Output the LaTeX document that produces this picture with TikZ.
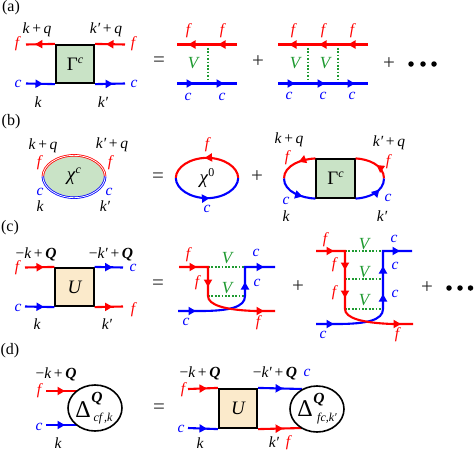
\documentclass[tikz,border=0pt]{standalone}
\usepackage{fontspec}
\setmainfont{Liberation Serif}
\usetikzlibrary{arrows.meta,decorations.markings,shapes.geometric}
\definecolor{boxgreen}{HTML}{C9E3C6}
\definecolor{boxyellow}{HTML}{FBEACB}
\definecolor{vgreen}{HTML}{1E9A30}
\newcommand{\kq}{\textit{k}\,+\,\textit{q}}
\newcommand{\kpq}{\textit{k′}\,+\,\textit{q}}
\newcommand{\mkQ}{−\textit{k}\,+\,\textbf{\textit{Q}}}
\newcommand{\mkpQ}{−\textit{k′}\,+\,\textbf{\textit{Q}}}
\newcommand{\sups}[1]{\raisebox{7pt}{\fontsize{12}{12}\selectfont\itshape #1}}
\pgfkeys{/pgf/decoration/tipat/.style={mark=at position #1 with {\arrow{Triangle[length=7.5pt,width=8pt]}}}}
\tikzset{
  am/.style={postaction={decorate,decoration={markings,tipat/.list={#1}}}},
  rl/.style={draw=red,line width=2.1pt},
  bl/.style={draw=blue,line width=2.1pt},
  vl/.style={draw=vgreen,line width=2pt,dash pattern=on 1.7pt off 1.7pt},
  lab/.style={inner sep=0pt,font=\fontsize{15.5}{15.5}\selectfont},
  il/.style={lab,font=\fontsize{15.5}{15.5}\selectfont\itshape},
  fl/.style={il,text=red},
  cl/.style={il,text=blue},
  gl/.style={il,text=vgreen,font=\fontsize{17}{17}\selectfont\itshape},
  op/.style={inner sep=0pt,font=\fontsize{21}{21}\selectfont,text=black!85},
  sq/.style={draw=black,line width=1.7pt,minimum width=38.5pt,minimum height=38.5pt,inner sep=0pt,font=\fontsize{19}{19}\selectfont},
  gbox/.style={sq,fill=boxgreen},
  ybox/.style={sq,fill=boxyellow},
  blob/.style={draw=black,line width=1.6pt,ellipse,minimum width=54pt,minimum height=46pt,inner sep=0pt},
  dotn/.style={circle,fill=black,minimum size=5.5pt,inner sep=0pt},
  ptag/.style={inner sep=0pt,font=\fontsize{16}{16}\selectfont}
}
\begin{document}
\begin{tikzpicture}[x=1pt,y=-1pt]
\useasboundingbox (0,0) rectangle (474,451);
% ===== (a)
\node[ptag] (ta) at (11,8) {(a)};
\node[gbox] (aG) at (75,64) {Γ\sups{c}};
\coordinate (a1) at (26,44.5); \coordinate (a2) at (125,44.5);
\coordinate (a3) at (26,83.5); \coordinate (a4) at (125,83.5);
\draw[rl,am=20pt] (aG.north west) -- (a1);
\draw[rl,am=19pt] (a2) -- (aG.north east);
\draw[bl,am=17pt] (a3) -- (aG.south west);
\draw[bl,am=18pt] (aG.south east) -- (a4);
\node[lab] (al1) at (37,30) {\kq};
\node[lab] (al2) at (106,30) {\kpq};
\node[fl] (al3) at (17,44) {f};
\node[fl] (al4) at (133,44) {f};
\node[cl] (al5) at (18,84) {c};
\node[cl] (al6) at (134,84) {c};
\node[il] (al7) at (38,102) {k};
\node[il] (al8) at (103,102) {k′};
\node[op] (aeq) at (159,62) {=};
% a second term
\coordinate (b1) at (177,44.5); \coordinate (b2) at (237,44.5);
\coordinate (b3) at (177,83.5); \coordinate (b4) at (237,83.5);
\coordinate (b5) at (207.5,44.5); \coordinate (b6) at (207.5,83.5);
\draw[vl] (b5) -- (b6);
\draw[rl,am={19pt,49pt}] (b2) -- (b1);
\draw[bl,am={17pt,47pt}] (b3) -- (b4);
\node[fl] (bl1) at (188,31) {f};
\node[fl] (bl2) at (222,31) {f};
\node[cl] (bl3) at (188,97) {c};
\node[cl] (bl4) at (222,97) {c};
\node[gl] (bl5) at (193,63) {V};
\node[op] (apl) at (258,62) {+};
% a third term
\coordinate (c1) at (278,44.5); \coordinate (c2) at (368,44.5);
\coordinate (c3) at (278,83.5); \coordinate (c4) at (368,83.5);
\coordinate (c5) at (308,44.5); \coordinate (c6) at (308,83.5);
\coordinate (c7) at (338,44.5); \coordinate (c8) at (338,83.5);
\draw[vl] (c5) -- (c6);
\draw[vl] (c7) -- (c8);
\draw[rl,am={20pt,49pt,79pt}] (c2) -- (c1);
\draw[bl,am={17pt,47pt,77pt}] (c3) -- (c4);
\node[fl] (cl1) at (293,31) {f};
\node[fl] (cl2) at (323,31) {f};
\node[fl] (cl3) at (352,31) {f};
\node[cl] (cl4) at (289,96) {c};
\node[cl] (cl5) at (323,96) {c};
\node[cl] (cl6) at (352,96) {c};
\node[gl] (cl7) at (295,63) {V};
\node[gl] (cl8) at (325,63) {V};
\node[op] (apl2) at (389,64) {+};
\node[dotn] (ad1) at (411,64) {};
\node[dotn] (ad2) at (423,64) {};
\node[dotn] (ad3) at (434,64) {};
% ===== (b)
\node[ptag] (tb) at (11,122) {(b)};
\node[ellipse,fill=boxgreen,minimum width=62pt,minimum height=42pt,inner sep=0pt,font=\fontsize{19}{19}\selectfont] (bX) at (74,176.5) {\textit{χ}\sups{c}};
\draw[draw=red,line width=.8pt,double=white,double distance=.8pt] (bX.west) .. controls (43,165) and (57,155.5) .. (bX.north) .. controls (91,155.5) and (105,165) .. (bX.east);
\draw[draw=blue,line width=.8pt,double=white,double distance=.8pt] (bX.west) .. controls (43,188) and (57,197.5) .. (bX.south) .. controls (91,197.5) and (105,188) .. (bX.east);
\node[lab] (dl1) at (43,146) {\kq};
\node[lab] (dl2) at (112,145) {\kpq};
\node[fl] (dl3) at (39,163) {f};
\node[fl] (dl4) at (110,163) {f};
\node[cl] (dl5) at (40,192) {c};
\node[cl] (dl6) at (109,192) {c};
\node[il] (dl7) at (40,206) {k};
\node[il] (dl8) at (105,206) {k′};
\node[op] (beq) at (158,178) {=};
% chi0
\node[inner sep=0pt,minimum width=62pt,minimum height=40pt,ellipse,font=\fontsize{19}{19}\selectfont] (bZ) at (207,178) {\textit{χ}\raisebox{7pt}{\fontsize{12}{12}\selectfont 0}};
\draw[rl,am=.53] (bZ.east) .. controls (238,167) and (224,158) .. (bZ.north) .. controls (190,158) and (176,167) .. (bZ.west);
\draw[bl,am=.53] (bZ.west) .. controls (176,189) and (190,198) .. (bZ.south) .. controls (224,198) and (238,189) .. (bZ.east);
\node[fl] (el1) at (207,145) {f};
\node[cl] (el2) at (207,209) {c};
\node[op] (bpl) at (257,177) {+};
% loop with vertex
\node[gbox] (bG) at (335.5,178.5) {Γ\sups{c}};
\coordinate (bL) at (284,178.5); \coordinate (bR) at (384,178.5);
\draw[rl,am=.42] (bG.north west) .. controls (302,159) and (284,165) .. (bL);
\draw[bl,am=.68] (bL) .. controls (284,192) and (302,198) .. (bG.south west);
\draw[rl,am=.42] (bR) .. controls (384,165) and (368,159) .. (bG.north east);
\draw[bl,am=.68] (bG.south east) .. controls (368,198) and (384,192) .. (bR);
\node[lab] (fl1) at (289,140) {\kq};
\node[lab] (fl2) at (389,143) {\kpq};
\node[fl] (fl3) at (287,158) {f};
\node[fl] (fl4) at (388,162) {f};
\node[cl] (fl5) at (286,201) {c};
\node[cl] (fl6) at (388,198) {c};
\node[il] (fl7) at (286,216) {k};
\node[il] (fl8) at (382,216) {k′};
% ===== (c)
\node[ptag] (tc) at (10,228) {(c)};
\node[ybox,font=\fontsize{19}{19}\selectfont\itshape] (cU) at (74.5,287) {U};
\coordinate (g1) at (25,267.5); \coordinate (g2) at (123,267.5);
\coordinate (g3) at (25,306.5); \coordinate (g4) at (123,306.5);
\draw[rl,am=19pt] (g1) -- (cU.north west);
\draw[bl,am=18pt] (cU.north east) -- (g2);
\draw[bl,am=19pt] (g3) -- (cU.south west);
\draw[rl,am=18pt] (cU.south east) -- (g4);
\node[lab] (gl1) at (36,254) {\mkQ};
\node[lab] (gl2) at (111,254) {\mkpQ};
\node[fl] (gl3) at (17,268) {f};
\node[cl] (gl4) at (133,268) {c};
\node[cl] (gl5) at (18,308) {c};
\node[fl] (gl6) at (133,310) {f};
\node[il] (gl7) at (37,324) {k};
\node[il] (gl8) at (107,324) {k′};
\node[op] (ceq) at (158,285) {=};
% c second term
\coordinate (h1) at (179,267); \coordinate (h2) at (208,267); \coordinate (h3) at (208,296);
\coordinate (h4) at (275,311); \coordinate (h5) at (178,311); \coordinate (h6) at (245,296);
\coordinate (h7) at (245,267); \coordinate (h8) at (275,267);
\draw[vl] (h2) -- (h7);
\draw[vl] (h3) -- (h6);
\draw[bl,am={18pt,-45pt,-11pt}] (h5) -- (200,311) .. controls (230,311) and (245,307) .. (h6) -- (h7) -- (h8);
\draw[rl,am={18pt,49pt,-11pt}] (h1) -- (h2) -- (h3) .. controls (208,305) and (225,310) .. (255,311) -- (h4);
\node[fl] (hl1) at (188,255) {f};
\node[fl] (hl2) at (197,283) {f};
\node[cl] (hl3) at (186,322) {c};
\node[cl] (hl4) at (256,253) {c};
\node[cl] (hl5) at (257,283) {c};
\node[fl] (hl6) at (258,323) {f};
\node[gl] (hl7) at (227,258) {V};
\node[gl] (hl8) at (227,288) {V};
\node[op] (cpl) at (298,287) {+};
% c third term
\coordinate (j1) at (316,251); \coordinate (j2) at (345,251); \coordinate (j3) at (345,279); \coordinate (j4) at (345,309);
\coordinate (j5) at (413,324); \coordinate (j6) at (316,324); \coordinate (j7) at (383,309);
\coordinate (j8) at (383,279); \coordinate (j9) at (383,251); \coordinate (j10) at (412,251);
\draw[vl] (j2) -- (j9);
\draw[vl] (j3) -- (j8);
\draw[vl] (j4) -- (j7);
\draw[bl,am={18pt,-72pt,-44pt,-12pt}] (j6) -- (337,324) .. controls (367,324) and (383,320) .. (j7) -- (j9) -- (j10);
\draw[rl,am={18pt,48pt,76pt,-12pt}] (j1) -- (j2) -- (j4) .. controls (345,318) and (362,323) .. (393,324) -- (j5);
\node[fl] (jl1) at (325,240) {f};
\node[fl] (jl2) at (334,265) {f};
\node[fl] (jl3) at (334,293) {f};
\node[cl] (jl4) at (394,239) {c};
\node[cl] (jl5) at (395,266) {c};
\node[cl] (jl6) at (395,294) {c};
\node[cl] (jl7) at (323,335) {c};
\node[fl] (jl8) at (397,335) {f};
\node[gl] (jl9) at (364,244) {V};
\node[gl] (jl10) at (364,272) {V};
\node[gl] (jl11) at (364,300) {V};
\node[op] (cpl2) at (427,288) {+};
\node[dotn] (cd1) at (449,288) {};
\node[dotn] (cd2) at (460,288) {};
\node[dotn] (cd3) at (470.5,288) {};
% ===== (d)
\node[ptag] (td) at (10,351) {(d)};
\coordinate (k1) at (46,391); \coordinate (k2) at (77,391);
\coordinate (k3) at (46,425); \coordinate (k4) at (77,425);
\draw[rl,am=19pt] (k1) -- (k2);
\draw[bl,am=19pt] (k3) -- (k4);
\node[blob] (dA) at (95,408) {};
\node[lab] (kl1) at (56,374) {\mkQ};
\node[fl] (kl2) at (39,391) {f};
\node[cl] (kl3) at (39,427) {c};
\node[il] (kl4) at (58,443.5) {k};
\node[lab,font=\fontsize{24}{24}\selectfont] (kD) at (83,410) {Δ};
\node[lab,font=\fontsize{15.5}{15.5}\selectfont\bfseries\itshape] (kQ) at (97,399) {Q};
\node[il,font=\fontsize{12}{12}\selectfont\itshape] (kS) at (103,419) {cf\,,k};
\node[op] (deq) at (159,409) {=};
% d right
\node[ybox,minimum height=39.5pt,font=\fontsize{19}{19}\selectfont\itshape] (dU) at (238,408.5) {U};
\coordinate (m1) at (188,389); \coordinate (m2) at (188,428);
\coordinate (m3) at (302,389); \coordinate (m4) at (302,428);
\draw[rl,am=19pt] (m1) -- (dU.north west);
\draw[bl,am=19pt] (m2) -- (dU.south west);
\draw[bl,am=25pt] (dU.north east) -- (m3);
\draw[rl,am=25pt] (dU.south east) -- (m4);
\node[blob] (dB) at (317,409) {};
\node[lab] (ml1) at (200,373) {\mkQ};
\node[lab] (ml2) at (275,373) {\mkpQ};
\node[cl] (ml3) at (307,373) {c};
\node[fl] (ml4) at (183,390) {f};
\node[cl] (ml5) at (181,429) {c};
\node[il] (ml6) at (200,443.5) {k};
\node[il] (ml7) at (274,442.5) {k′};
\node[fl] (ml8) at (288,442.5) {f};
\node[lab,font=\fontsize{24}{24}\selectfont] (mD) at (305,409) {Δ};
\node[lab,font=\fontsize{15.5}{15.5}\selectfont\bfseries\itshape] (mQ) at (319,400) {Q};
\node[il,font=\fontsize{12}{12}\selectfont\itshape] (mS) at (327,419) {fc,k′};
\end{tikzpicture}
\end{document}
